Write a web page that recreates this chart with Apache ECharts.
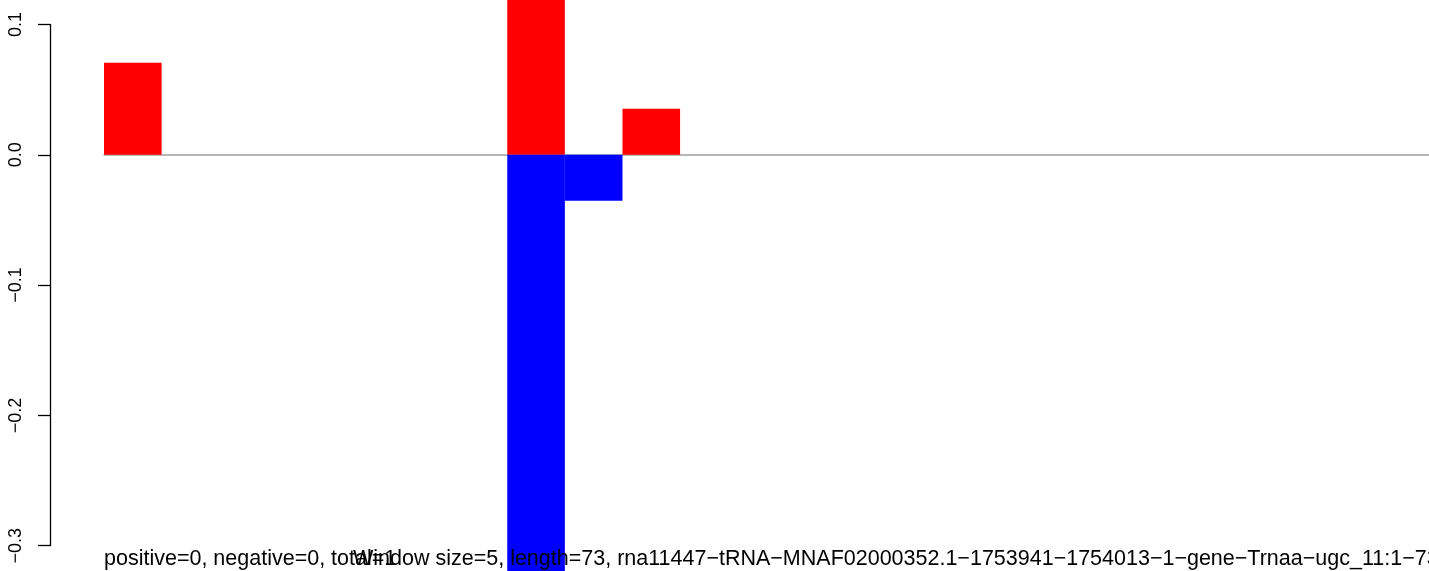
<!DOCTYPE html>
<html>
<head>
<meta charset="utf-8">
<script src="https://cdn.jsdelivr.net/npm/echarts@6/dist/echarts.min.js"></script>
<style>
html,body{margin:0;padding:0;background:#fff;}
#chart{width:1429px;height:571px;}
</style>
</head>
<body>
<div id="chart"></div>
<script>
// ---- data ----
const categories = ['1','2','3','4','5','6','7','8','9','10','11','12','13','14','15','16','17','18','19','20','21','22','23'];
const positiveValues = [0.0707,null,null,null,null,null,null,0.16,null,0.0353,null,null,null,null,null,null,null,null,null,null,null,null,null];
const negativeValues = [null,null,null,null,null,null,null,-0.40,-0.0353,null,null,null,null,null,null,null,null,null,null,null,null,null,null];
const yTickValues = [-0.3,-0.2,-0.1,0.0,0.1];
const yTickLabels = ['\u22120.3','\u22120.2','\u22120.1','0.0','0.1'];
const statsText = 'positive=0, negative=0, total=1';
const infoText = 'Window size=5, length=73, rna11447\u2212tRNA\u2212MNAF02000352.1\u22121753941\u22121754013\u22121\u2212gene\u2212Trnaa\u2212ugc_11:1\u221273';

const font = '"Liberation Sans", Arial, Helvetica, sans-serif';
const chart = echarts.init(document.getElementById('chart'));
chart.setOption({
  animation: false,
  backgroundColor: '#ffffff',
  title: [
    { text: statsText, left: 104, top: 548, textStyle: { fontFamily: font, fontSize: 21.5, fontWeight: 'normal', color: '#000' }, padding: 0, z: 10 },
    { text: infoText, left: 353, top: 548, textStyle: { fontFamily: font, fontSize: 21.5, fontWeight: 'normal', color: '#000' }, padding: 0, z: 10 }
  ],
  grid: { left: 104, width: 1329, top: 24.5, bottom: 25.3, containLabel: false },
  xAxis: {
    type: 'category',
    data: categories,
    boundaryGap: true,
    axisLine: { show: true, onZero: true, lineStyle: { color: '#a0a0a0', width: 1.5 } },
    axisTick: { show: false },
    axisLabel: { show: false },
    splitLine: { show: false },
    z: 1
  },
  yAxis: {
    type: 'value',
    min: -0.3,
    max: 0.1,
    interval: 0.1,
    offset: 54,
    axisLine: { show: true, onZero: false, lineStyle: { color: '#000', width: 1.3 } },
    axisTick: { show: true, length: 12, lineStyle: { color: '#000', width: 1.3 } },
    splitLine: { show: false },
    axisLabel: {
      rotate: 90,
      margin: 25,
      fontFamily: font,
      fontSize: 18,
      color: '#000',
      formatter: function (v) {
        for (let i = 0; i < yTickValues.length; i++) {
          if (Math.abs(yTickValues[i] - v) < 1e-9) return yTickLabels[i];
        }
        return '';
      }
    }
  },
  series: [
    { name: 'positive', type: 'bar', data: positiveValues, barWidth: '100%', barGap: '-100%', clip: false, itemStyle: { color: '#ff0000' }, z: 2 },
    { name: 'negative', type: 'bar', data: negativeValues, barWidth: '100%', barGap: '-100%', clip: false, itemStyle: { color: '#0000ff' }, z: 2 }
  ]
});
</script>
</body>
</html>
